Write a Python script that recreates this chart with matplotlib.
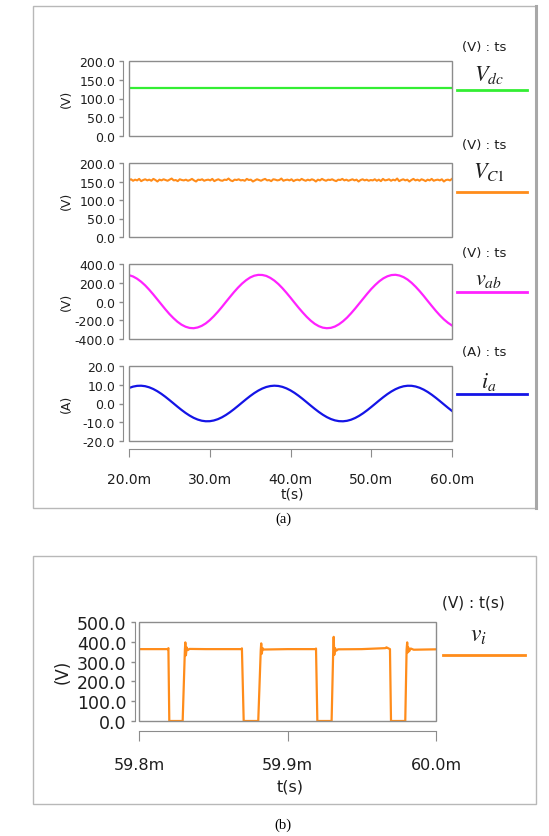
import numpy as np
import matplotlib
matplotlib.use("Agg")
import matplotlib.pyplot as plt
import matplotlib.patches as patches

plt.rcParams['font.family'] = 'DejaVu Sans'
plt.rcParams['mathtext.fontset'] = 'stix'
plt.rcParams['axes.unicode_minus'] = False

# --- dados (a) : tempo em ms ---
vdc_t = [20.0, 60.0]
vdc = [128, 128]

vc1_t0, vc1_t1 = 20.0, 60.0
vc1 = [154, 156, 152, 155, 153, 157, 151, 154, 156, 153, 155, 152, 157, 154, 150, 155,
       153, 156, 154, 152, 155, 158, 153, 154, 151, 156, 154, 153, 155, 152, 154, 157,
       153, 150, 155, 154, 156, 152, 154, 155, 153, 157, 151, 154, 156, 153, 152, 155,
       154, 158, 153, 151, 155, 154, 156, 153, 154, 152, 157, 154, 155, 150, 153, 156,
       154, 152, 155, 157, 153, 154, 151, 156, 155, 153, 154, 158, 152, 154, 155, 153,
       156, 151, 154, 155, 153, 157, 154, 152, 155, 153, 156, 154, 150, 155, 153, 157,
       154, 152, 155, 154, 156, 153, 151, 155, 154, 157, 153, 155, 152, 154, 156, 153,
       155, 150, 154, 156, 153, 155, 152, 154, 153, 156, 152, 155, 151, 157, 153, 154,
       156, 152, 155, 153, 158, 151, 154, 156, 153, 155, 150, 154, 157, 153, 155, 152,
       156, 154, 151, 155, 153, 157, 152, 154, 155, 153, 156, 150, 154, 155, 153, 157]

t_ac = np.arange(20.0, 60.01, 0.5)
vab = [281, 267, 243, 211, 172, 126, 76, 23, -30, -83,
       -133, -177, -216, -247, -269, -282, -285, -277, -260, -234,
       -199, -157, -110, -59, -5, 48, 100, 148, 191, 227,
       256, 275, 284, 283, 273, 252, 223, 186, 142, 93,
       41, -13, -66, -116, -163, -204, -238, -263, -279, -285,
       -281, -267, -243, -211, -172, -126, -76, -23, 30, 83,
       133, 177, 216, 247, 269, 282, 285, 277, 260, 234,
       199, 157, 110, 59, 5, -48, -100, -148, -191, -227, -256]
ia = [8.28, 9.00, 9.41, 9.49, 9.23, 8.64, 7.74, 6.57, 5.17, 3.59,
      1.87, 0.10, -1.69, -3.41, -5.01, -6.43, -7.63, -8.55, -9.18, -9.47,
      -9.44, -9.06, -8.37, -7.38, -6.13, -4.66, -3.03, -1.29, 0.50, 2.27,
      3.96, 5.51, 6.86, 7.97, 8.80, 9.31, 9.50, 9.35, 8.87, 8.07,
      6.99, 5.66, 4.13, 2.46, 0.69, -1.10, -2.84, -4.49, -5.98, -7.26,
      -8.28, -9.00, -9.41, -9.49, -9.23, -8.64, -7.74, -6.57, -5.17, -3.59,
      -1.87, -0.10, 1.69, 3.41, 5.01, 6.43, 7.63, 8.55, 9.18, 9.47,
      9.44, 9.06, 8.37, 7.38, 6.13, 4.66, 3.03, 1.29, -0.50, -2.27, -3.96]

# --- dados da figura (b) ---
vi_t = [59.8000, 59.8195, 59.8198, 59.8204, 59.8294, 59.8309, 59.8312, 59.8316, 59.8321, 59.8328,
        59.8340, 59.8450, 59.8690, 59.8693, 59.8705, 59.8803, 59.8820, 59.8823, 59.8827, 59.8832,
        59.8840, 59.9000, 59.9189, 59.9192, 59.9201, 59.9297, 59.9308, 59.9311, 59.9315, 59.9320,
        59.9328, 59.9340, 59.9500, 59.9660, 59.9666, 59.9690, 59.9697, 59.9793, 59.9802, 59.9806,
        59.9809, 59.9813, 59.9819, 59.9830, 59.9850, 60.0000]
vi = [363, 363, 368, 0, 0, 360, 397, 332, 372, 358,
      364, 363, 363, 367, 0, 0, 360, 392, 340, 368,
      361, 363, 363, 366, 0, 0, 362, 425, 334, 368,
      355, 362, 363, 368, 372, 363, 0, 0, 360, 397,
      346, 372, 352, 366, 360, 362]

xticks_a = [20, 30, 40, 50, 60]
xticks_b = [59.8, 59.9, 60.0]
yticks_dc = [0, 50, 100, 150, 200]
yticks_vab = [-400, -200, 0, 200, 400]
yticks_ia = [-20, -10, 0, 10, 20]
yticks_vi = [0, 100, 200, 300, 400, 500]

# --- layout (pixels da imagem 549x837) ---
W, H = 549, 837
def fx(px): return px / W
def fy(py): return 1 - py / H

GRAY = '#8c8c8c'
TXT = '#1e1e1e'

fig = plt.figure(figsize=(5.49, 8.37), dpi=100)
fig.patch.set_facecolor('white')

# molduras externas
for y0, y1 in [(7, 509), (557, 805)]:
    fig.patches.append(patches.Rectangle((fx(33), fy(y1)), fx(536) - fx(33), fy(y0) - fy(y1),
                                         transform=fig.transFigure, fill=False,
                                         edgecolor='#b8b8b8', linewidth=1.0))
fig.add_artist(plt.Line2D([fx(536), fx(536)], [fy(509), fy(7)], transform=fig.transFigure,
                          color='#a8a8a8', linewidth=2.2))


def painel(left, top, right, bottom, ticks, yfs, offset):
    ax = fig.add_axes([fx(left), fy(bottom), fx(right) - fx(left), fy(top) - fy(bottom)])
    ax.add_patch(patches.Rectangle((0, 0), 1, 1, transform=ax.transAxes, fill=False,
                                   edgecolor=GRAY, linewidth=1.0, clip_on=False, zorder=5))
    for s in ['top', 'right', 'bottom']:
        ax.spines[s].set_visible(False)
    ax.spines['left'].set_position(('outward', offset))
    ax.spines['left'].set_color(GRAY)
    ax.set_yticks(ticks)
    ax.set_yticklabels(['%.1f' % v for v in ticks])
    ax.set_ylim(ticks[0], ticks[-1])
    ax.tick_params(axis='y', direction='out', length=3, width=1, color=GRAY,
                   labelsize=yfs, labelcolor=TXT, pad=3)
    ax.tick_params(axis='x', bottom=False, labelbottom=False)
    return ax


def legenda(xc, ytxt, unidade, label, ybase, yline, x0, x1, cor, fs_u=9.5, fs_l=16):
    fig.text(fx(xc), fy(ytxt), unidade, ha='center', va='center', fontsize=fs_u, color=TXT)
    fig.text(fx(xc + 5), fy(ybase), label, ha='center', va='baseline', fontsize=fs_l, color=TXT)
    fig.add_artist(plt.Line2D([fx(x0), fx(x1)], [fy(yline), fy(yline)], transform=fig.transFigure,
                              color=cor, linewidth=2))


# (a) painel 1 - Vdc
ax1 = painel(129, 62, 452, 137, yticks_dc, 9, 4)
ax1.plot(vdc_t, vdc, color='#33ee33', linewidth=1.6)
ax1.set_xlim(20, 60)
fig.text(fx(66), fy(99), '(V)', rotation=90, ha='center', va='center', fontsize=9, color=TXT)
legenda(484, 47, '(V) : ts', r'$V_{dc}$', 81, 91, 457, 527, '#33ee33')

# (a) painel 2 - VC1
ax2 = painel(129, 164, 452, 238, yticks_dc, 9, 4)
ax2.plot(np.linspace(vc1_t0, vc1_t1, len(vc1)), vc1, color='#ff8c1a', linewidth=1.5)
ax2.set_xlim(20, 60)
fig.text(fx(66), fy(201), '(V)', rotation=90, ha='center', va='center', fontsize=9, color=TXT)
legenda(484, 145, '(V) : ts', r'$V_{C1}$', 178, 193, 457, 527, '#ff8c1a')

# (a) painel 3 - vab
ax3 = painel(129, 265, 452, 340, yticks_vab, 9, 4)
ax3.plot(t_ac, vab, color='#ff22ff', linewidth=1.6)
ax3.set_xlim(20, 60)
fig.text(fx(66), fy(302), '(V)', rotation=90, ha='center', va='center', fontsize=9, color=TXT)
legenda(484, 254, '(V) : ts', r'$v_{ab}$', 285, 293, 457, 527, '#ff22ff')

# (a) painel 4 - ia
ax4 = painel(129, 367, 452, 442, yticks_ia, 9, 4)
ax4.plot(t_ac, ia, color='#1414e6', linewidth=1.6)
ax4.set_xlim(20, 60)
ax4.spines['bottom'].set_visible(True)
ax4.spines['bottom'].set_position(('outward', 6))
ax4.spines['bottom'].set_color(GRAY)
ax4.set_xticks(xticks_a)
ax4.set_xticklabels(['%.1fm' % v for v in xticks_a])
ax4.tick_params(axis='x', bottom=True, labelbottom=True, direction='out', length=6,
                color=GRAY, labelsize=10, labelcolor=TXT, pad=10)
fig.text(fx(292), fy(495), 't(s)', ha='center', va='center', fontsize=10, color=TXT)
fig.text(fx(66), fy(404), '(A)', rotation=90, ha='center', va='center', fontsize=9, color=TXT)
legenda(484, 353, '(A) : ts', r'$i_a$', 388, 395, 457, 527, '#1414e6')

fig.text(fx(283), fy(519), '(a)', ha='center', va='center', fontsize=10.5,
         family='Liberation Serif', color='black')

# (b) vi
axb = painel(139, 623, 436, 722, yticks_vi, 12.5, 3)
axb.plot(vi_t, vi, color='#ff8c1a', linewidth=1.6)
axb.set_xlim(59.8, 60.0)
axb.spines['bottom'].set_visible(True)
axb.spines['bottom'].set_position(('outward', 7))
axb.spines['bottom'].set_color(GRAY)
axb.set_xticks(xticks_b)
axb.set_xticklabels(['%.1fm' % v for v in xticks_b])
axb.tick_params(axis='x', bottom=True, labelbottom=True, direction='out', length=7,
                color=GRAY, labelsize=11.5, labelcolor=TXT, pad=12)
fig.text(fx(290), fy(787), 't(s)', ha='center', va='center', fontsize=11.5, color=TXT)
fig.text(fx(63), fy(672), '(V)', rotation=90, ha='center', va='center', fontsize=12, color=TXT)
legenda(473, 603, '(V) : t(s)', r'$v_i$', 642, 656, 443, 525, '#ff8c1a', fs_u=11, fs_l=17)

fig.text(fx(283), fy(825), '(b)', ha='center', va='center', fontsize=10.5,
         family='Liberation Serif', color='black')

fig.savefig('out.png', dpi=100)
